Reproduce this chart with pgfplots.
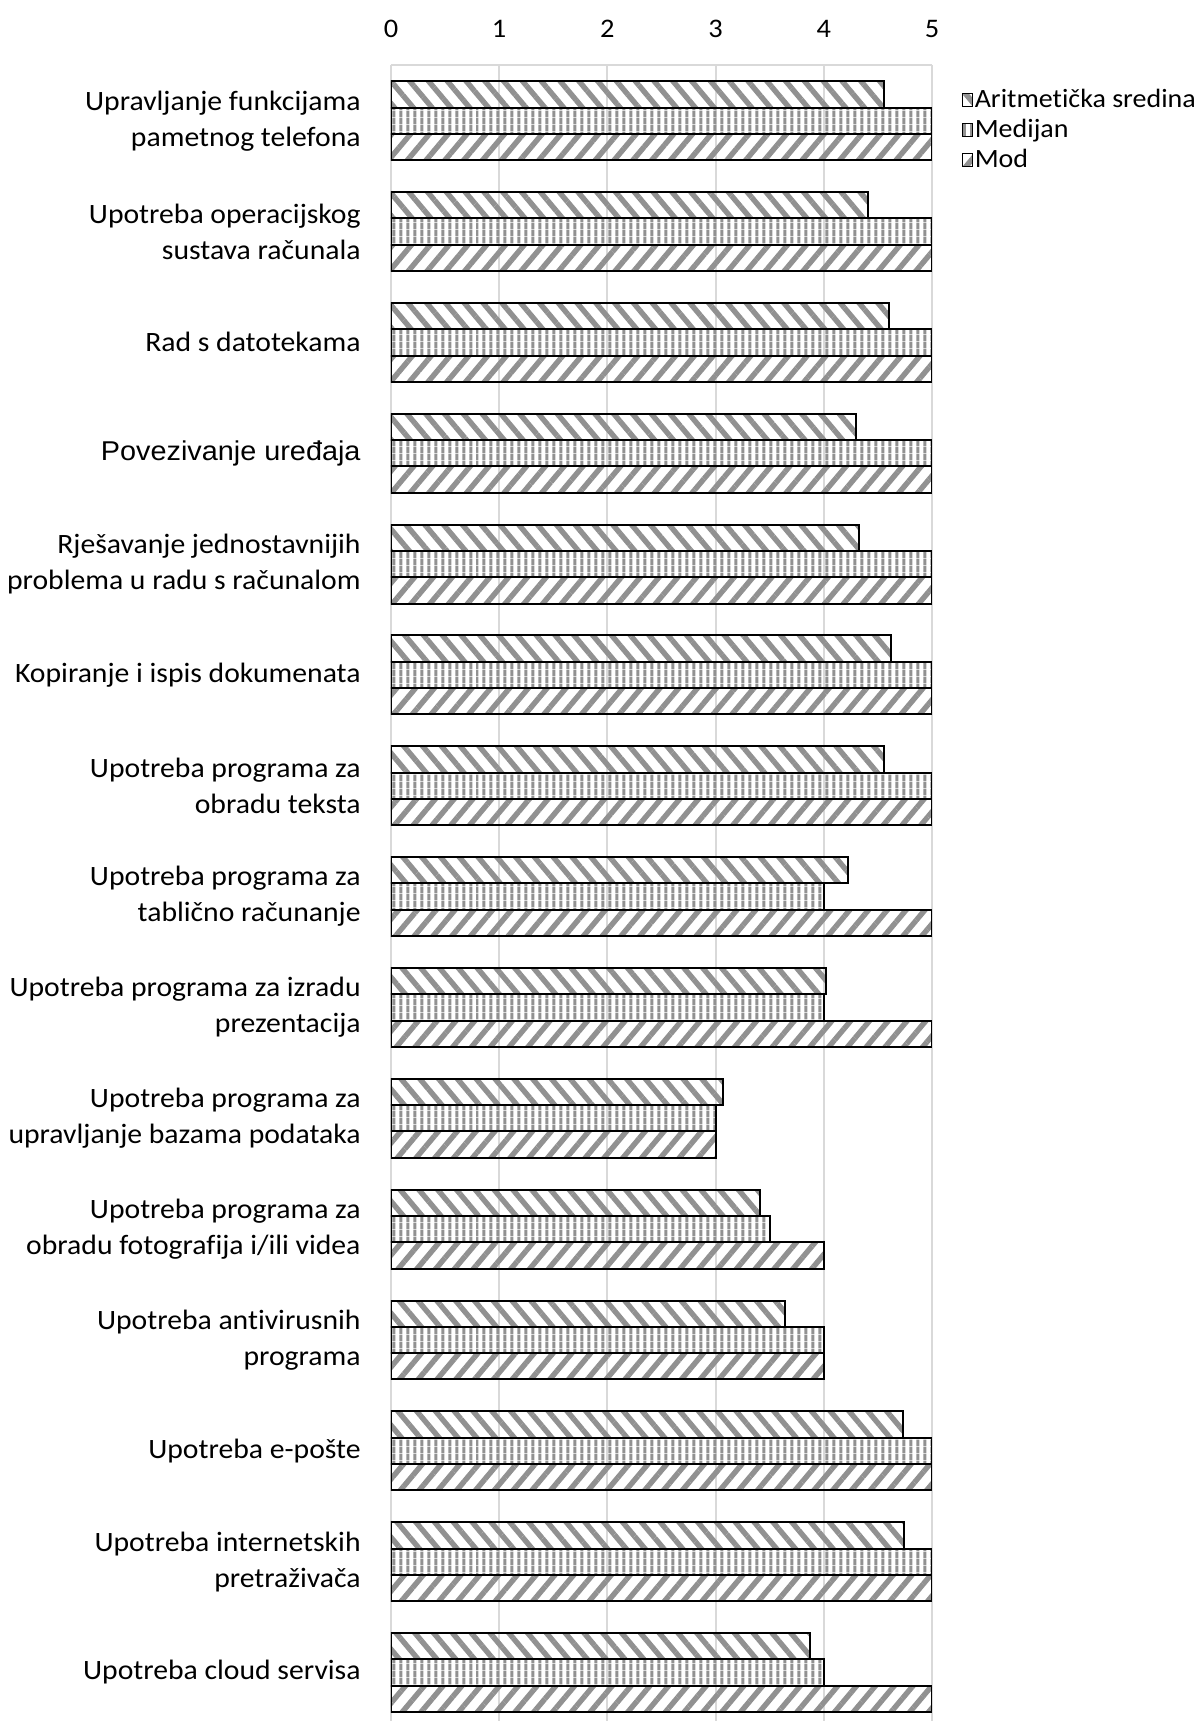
\documentclass[border=0pt]{standalone}
\usepackage{fontspec}
\setmainfont{Carlito}[FakeStretch=1.06, Ligatures=NoCommon]
\newfontfamily\arialfont{Liberation Sans}[FakeStretch=1.06]
\usepackage{pgfplots}
\usepackage{pgfplotstable}
\pgfplotsset{compat=1.18}
\usetikzlibrary{patterns.meta,calc}

\definecolor{gridgray}{RGB}{217,217,217}
\definecolor{stripe}{RGB}{145,145,145}

\pgfplotsset{
  patbar legend/.style={legend image code/.code={%
    \draw[##1,line width=0.5pt] (0pt,-3.15pt) rectangle (4.7pt,3.15pt);}},
  mybar/.style={draw=black, line width=1pt, pattern color=stripe, patbar legend},
}

% idx: kategorija odozgo prema dolje
\pgfplotstableread{
idx mean median mod
0  4.56 5   5
1  4.41 5   5
2  4.60 5   5
3  4.30 5   5
4  4.33 5   5
5  4.62 5   5
6  4.56 5   5
7  4.22 4   5
8  4.02 4   5
9  3.07 3   3
10 3.41 3.5 4
11 3.64 4   4
12 4.73 5   5
13 4.74 5   5
14 3.87 4   5
}\podaci

\begin{document}
\begin{tikzpicture}
\begin{axis}[
  name=ax,
  scale only axis,
  width=270.5pt, height=828pt,
  xbar,
  bar width=0.2373,
  xmin=0, xmax=5,
  ymin=-0.5025, ymax=14.4376,
  y dir=reverse,
  axis x line=top, axis y line=left,
  axis line style={-, draw=gridgray, line width=1pt},
  xtick={0,1,2,3,4,5},
  ytick={0,...,14},
  major tick length=0pt,
  xmajorgrids,
  grid style={draw=gridgray, line width=1pt},
  /pgf/number format/assume math mode=true,
  xticklabel style={font=\fontsize{13.4}{18}\selectfont, inner sep=0pt, yshift=13.4pt},
  yticklabel style={font=\fontsize{14}{18}\selectfont, align=right, inner sep=0pt, xshift=-15pt},
  yticklabels={
    {Upravljanje funkcijama\\pametnog telefona},
    {Upotreba operacijskog\\sustava računala},
    {Rad s datotekama},
    {\arialfont\fontsize{13.6}{18}\selectfont Povezivanje uređaja},
    {Rješavanje jednostavnijih\\problema u radu s računalom},
    {Kopiranje i ispis dokumenata},
    {Upotreba programa za\\obradu teksta},
    {Upotreba programa za\\tablično računanje},
    {Upotreba programa za izradu\\prezentacija},
    {Upotreba programa za\\upravljanje bazama podataka},
    {Upotreba programa za\\obradu fotografija i/ili videa},
    {Upotreba antivirusnih\\programa},
    {Upotreba e-pošte},
    {Upotreba internetskih\\pretraživača},
    {Upotreba cloud servisa}
  },
  legend cell align=left,
  legend style={at={(1,1)}, anchor=north west, xshift=15pt, yshift=-9.85pt,
    draw=none, fill=none, inner sep=0pt, row sep=0pt, column sep=0pt,
    font=\fontsize{13.2}{18}\selectfont,
    nodes={inner sep=1pt, text height=10pt, text depth=3pt}},
]
\addplot[mybar, bar shift=-0.2373, pattern={Lines[angle=-50, distance=7.2pt, line width=2.7pt]}]
  table[x=mean, y=idx] {\podaci};
\addplot[mybar, bar shift=0, pattern={Lines[angle=90, distance=3.35pt, line width=1.6pt]}]
  table[x=median, y=idx] {\podaci};
\addplot[mybar, bar shift=0.2373, pattern={Lines[angle=50, distance=7.2pt, line width=2.7pt]}]
  table[x=mod, y=idx] {\podaci};
\legend{Aritmetička sredina, Medijan, Mod}
\end{axis}
\pgfresetboundingbox
\path[use as bounding box] ($(ax.south west)+(-195.5pt,0)$) rectangle ($(ax.north east)+(134.5pt,32.5pt)$);
\end{tikzpicture}
\end{document}
